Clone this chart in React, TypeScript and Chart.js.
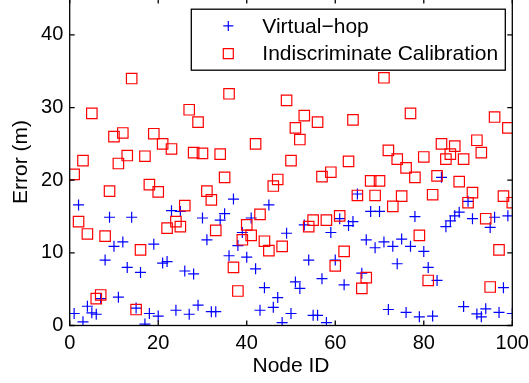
import React, { useEffect, useRef } from "react";
import { Chart, registerables } from "chart.js";

Chart.register(...registerables);

const FONT = "'Liberation Sans', Arial, Helvetica, sans-serif";

const nodeIds = [
  1, 2, 3, 4, 5, 6, 7, 8, 9, 10, 11, 12, 13, 14, 15, 16, 17, 18, 19, 20,
  21, 22, 23, 24, 25, 26, 27, 28, 29, 30, 31, 32, 33, 34, 35, 36, 37, 38, 39, 40,
  41, 42, 43, 44, 45, 46, 47, 48, 49, 50, 51, 52, 53, 54, 55, 56, 57, 58, 59, 60,
  61, 62, 63, 64, 65, 66, 67, 68, 69, 70, 71, 72, 73, 74, 75, 76, 77, 78, 79, 80,
  81, 82, 83, 84, 85, 86, 87, 88, 89, 90, 91, 92, 93, 94, 95, 96, 97, 98, 99, 100,
];

const virtualHop = [
  1.65, 16.6, 0.5, 2.65, 1.75, 1.55, 3.7, 9.0, 14.9, 10.9,
  3.9, 11.5, 8.0, 14.9, 2.4, 7.3, 0.2, 1.65, 11.2, 1.3,
  8.6, 8.8, 15.8, 2.1, 15.7, 7.5, 1.55, 7.1, 2.8, 14.8,
  11.8, 1.9, 1.9, 14.5, 15.4, 9.6, 17.4, 11.0, 12.8, 9.4,
  14.8, 7.8, 2.1, 5.2, 16.6, 2.5, 3.85, 0.4, 12.7, 1.65,
  6.0, 5.1, 13.85, 9.0, 1.4, 1.4, 6.45, 0.4, 12.8, 9.0,
  14.7, 5.6, 13.75, 14.3, 18.1, 7.2, 11.8, 15.7, 10.7, 15.7,
  11.5, 2.2, 10.9, 8.5, 11.9, 1.8, 10.9, 15.0, 1.2, 10.2,
  8.0, 1.3, 6.2, 20.4, 13.6, 14.4, 15.1, 15.6, 2.6, 17.1,
  14.7, 1.6, 1.2, 2.3, 13.5, 14.9, 1.8, 5.2, 15.1, 1.65,
];

const indiscriminate = [
  20.8, 14.3, 22.7, 12.6, 29.2, 3.7, 4.2, 12.3, 18.5, 26.0,
  22.3, 26.5, 23.4, 34.0, 2.2, 10.4, 23.3, 19.4, 26.4, 18.4,
  25.0, 13.4, 24.3, 14.3, 13.6, 16.5, 29.7, 23.8, 28.0, 23.7,
  18.5, 17.3, 13.1, 23.6, 20.4, 31.9, 8.0, 4.75, 11.8, 13.85,
  12.4, 25.0, 15.3, 11.6, 10.3, 19.2, 20.1, 10.9, 31.0, 22.7,
  27.2, 25.6, 28.9, 13.6, 14.5, 28.0, 20.5, 14.5, 21.1, 8.2,
  15.1, 10.2, 22.6, 28.3, 17.9, 5.1, 6.6, 19.9, 17.9, 19.9,
  34.1, 24.1, 16.4, 22.9, 17.8, 21.7, 29.2, 20.4, 12.4, 23.2,
  6.2, 18.0, 20.6, 25.0, 22.9, 23.6, 24.7, 19.8, 22.9, 16.9,
  18.3, 25.5, 23.8, 14.7, 5.3, 28.7, 10.4, 17.8, 27.2, 16.9,
];

const seriesLabels = ["Virtual\u2212hop", "Indiscriminate Calibration"];
const xTitle = "Node ID";
const yTitle = "Error (m)";
const xRange = [0, 100];
const yRange = [0, 45];

const BLUE = "#0000ff";
const RED = "#ff0000";

const matlabPlugin = {
  id: "matlabBox",
  afterDraw(chart: any) {
    const { ctx, chartArea: a, scales } = chart;
    const xs = scales.x;
    const ys = scales.y;
    ctx.save();
    ctx.strokeStyle = "#000";
    ctx.lineWidth = 1.3;
    ctx.strokeRect(a.left, a.top, a.right - a.left, a.bottom - a.top);
    const L = 5;
    ctx.beginPath();
    xs.ticks.forEach((t: any) => {
      const px = xs.getPixelForValue(t.value);
      ctx.moveTo(px, a.bottom);
      ctx.lineTo(px, a.bottom - L);
      ctx.moveTo(px, a.top);
      ctx.lineTo(px, a.top + L);
    });
    ys.ticks.forEach((t: any) => {
      const py = ys.getPixelForValue(t.value);
      ctx.moveTo(a.left, py);
      ctx.lineTo(a.left + L, py);
      ctx.moveTo(a.right, py);
      ctx.lineTo(a.right - L, py);
    });
    ctx.stroke();

    // legend box
    const bx = a.right - 321;
    const by = a.top + 10.6;
    const bw = 314;
    const bh = 61;
    ctx.fillStyle = "#fff";
    ctx.fillRect(bx, by, bw, bh);
    ctx.lineWidth = 1.3;
    ctx.strokeStyle = "#000";
    ctx.strokeRect(bx, by, bw, bh);
    const rows = [by + 16.7, by + 44.4];
    chart.data.datasets.forEach((ds: any, i: number) => {
      const cy = rows[i];
      const cx = bx + 37;
      ctx.beginPath();
      ctx.strokeStyle = ds.pointBorderColor;
      ctx.lineWidth = 1.2;
      if (ds.pointStyle === "cross") {
        ctx.moveTo(cx - 5, cy);
        ctx.lineTo(cx + 5, cy);
        ctx.moveTo(cx, cy - 5);
        ctx.lineTo(cx, cy + 5);
      } else {
        ctx.rect(cx - 5, cy - 5, 10, 10);
      }
      ctx.stroke();
      ctx.fillStyle = "#000";
      ctx.font = `21px ${FONT}`;
      ctx.textAlign = "left";
      ctx.textBaseline = "middle";
      ctx.fillText(ds.label, bx + 71, cy + 1);
    });
    ctx.restore();
  },
};

export default function App() {
  const ref = useRef<HTMLCanvasElement | null>(null);

  useEffect(() => {
    if (!ref.current) return;
    const vh = nodeIds.map((x, i) => ({ x, y: virtualHop[i] }));
    const ic = nodeIds.map((x, i) => ({ x, y: indiscriminate[i] }));
    const chart = new Chart(ref.current, {
      type: "scatter",
      data: {
        datasets: [
          {
            label: seriesLabels[0],
            data: vh,
            pointStyle: "cross",
            pointRadius: 5.5,
            pointBorderColor: BLUE,
            pointBackgroundColor: BLUE,
            pointBorderWidth: 1.2,
            showLine: false,
            order: 1,
          } as any,
          {
            label: seriesLabels[1],
            data: ic,
            pointStyle: "rect",
            pointRadius: 7.4,
            pointBorderColor: RED,
            pointBackgroundColor: "rgba(0,0,0,0)",
            pointBorderWidth: 1.2,
            showLine: false,
            order: 0,
          } as any,
        ],
      },
      options: {
        animation: false,
        responsive: false,
        events: [],
        layout: { padding: { top: 6.7, right: 16.7, bottom: 0, left: 0 } },
        plugins: {
          legend: { display: false },
          tooltip: { enabled: false },
        },
        scales: {
          x: {
            type: "linear",
            min: xRange[0],
            max: xRange[1],
            afterFit: (s: any) => {
              s.height = 57.5;
              s.paddingLeft = 0;
              s.paddingRight = 0;
              s.paddingTop = 0;
              s.paddingBottom = 0;
            },
            ticks: {
              stepSize: 20,
              includeBounds: false,
              color: "#000",
              padding: 5.8,
              maxRotation: 0,
              font: { family: FONT, size: 20 },
            },
            grid: { display: true, drawOnChartArea: false, drawTicks: false },
            border: { display: false },
            title: {
              display: true,
              text: xTitle,
              color: "#000",
              font: { family: FONT, size: 21 },
              padding: { top: 0, bottom: 3.7 },
            },
          },
          y: {
            type: "linear",
            min: yRange[0],
            max: yRange[1],
            afterFit: (s: any) => {
              s.width = 69.7;
              s.paddingLeft = 0;
              s.paddingRight = 0;
              s.paddingTop = 0;
              s.paddingBottom = 0;
            },
            ticks: {
              stepSize: 10,
              includeBounds: false,
              color: "#000",
              padding: 6.4,
              font: { family: FONT, size: 20 },
            },
            grid: { display: true, drawOnChartArea: false, drawTicks: false },
            border: { display: false },
            title: {
              display: true,
              text: yTitle,
              color: "#000",
              font: { family: FONT, size: 21 },
              padding: { top: 8.4, bottom: 0 },
            },
          },
        },
      },
      plugins: [matlabPlugin],
    });
    return () => chart.destroy();
  }, []);

  return (
    <div
      style={{
        position: "absolute",
        left: 0,
        top: -10,
        width: 529,
        height: 393,
        overflow: "hidden",
        background: "#fff",
      }}
    >
      <canvas ref={ref} width={529} height={393} style={{ display: "block" }} />
    </div>
  );
}
